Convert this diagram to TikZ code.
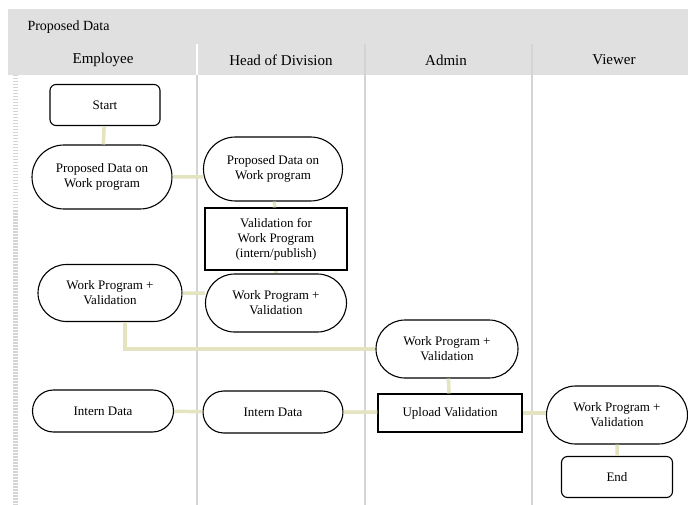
\documentclass[tikz,border=0pt]{standalone}
\usepackage{fontspec}
\setmainfont{Liberation Serif}
\usetikzlibrary{shapes.misc}
\definecolor{lanegray}{RGB}{224,224,224}
\definecolor{linegray}{RGB}{212,212,212}
\definecolor{flowline}{RGB}{228,228,192}
\tikzset{
  pill/.style={rounded rectangle, draw, line width=1.1pt, fill=white, inner sep=0pt, align=center, font=\fontsize{13}{15}\selectfont},
  boxnode/.style={rectangle, draw, line width=1.1pt, fill=white, inner sep=0pt, align=center, font=\fontsize{13}{15}\selectfont},
  termnode/.style={boxnode, rounded corners=6pt},
  flow/.style={draw=flowline, line width=3.5pt},
  lanelabel/.style={font=\fontsize{15}{17}\selectfont}
}
\begin{document}
\begin{tikzpicture}[x=1pt,y=-1pt]
\useasboundingbox (0,0) rectangle (688,505);
%header
\fill[lanegray] (8,9) rectangle (688,75);
\node[anchor=west, font=\fontsize{14}{16}\selectfont] (title) at (24,27) {Proposed Data};
\node[lanelabel] (laneE) at (103,60) {Employee};
\node[lanelabel] (laneH) at (281,60) {Head of Division};
\node[lanelabel] (laneA) at (446,60) {Admin};
\node[lanelabel] (laneV) at (614,60) {Viewer};

%lanes
\draw[white, line width=1.5pt] (197,44) -- (197,75);
\draw[linegray, line width=1.5pt] (365,44) -- (365,75);
\draw[linegray, line width=1.5pt] (532,44) -- (532,75);
\draw[linegray, line width=2.5pt] (197,75) -- (197,505);
\draw[linegray, line width=2.5pt] (365,75) -- (365,505);
\draw[linegray, line width=2.5pt] (532,75) -- (532,505);
\draw[linegray, line width=5pt, dash pattern=on 1.5pt off 1.5pt] (15,75) -- (15,505);

%Employee
\node[termnode, minimum width=110pt, minimum height=41pt] (start) at (105,105) {Start};
\node[pill, minimum width=140pt, minimum height=64pt] (pdE) at (102,177) {Proposed Data on\\Work program};
\node[pill, minimum width=144pt, minimum height=57pt] (wpE) at (110,293) {Work Program +\\Validation};
\node[pill, minimum width=141pt, minimum height=42pt] (intE) at (103,411) {Intern Data};

%Head of Division
\node[pill, minimum width=139pt, minimum height=64pt] (pdH) at (273,169) {Proposed Data on\\Work program};
\node[boxnode, minimum width=142pt, minimum height=62pt] (valH) at (276,239) {Validation for\\Work Program\\(intern/publish)};
\node[pill, minimum width=141pt, minimum height=58pt] (wpH) at (276,303) {Work Program +\\Validation};
\node[pill, minimum width=140pt, minimum height=42pt] (intH) at (273,412) {Intern Data};

%Admin
\node[pill, minimum width=142pt, minimum height=58pt] (wpA) at (447,349) {Work Program +\\Validation};
\node[boxnode, minimum width=144pt, minimum height=38pt] (upA) at (450,413) {Upload Validation};

%Viewer
\node[pill, minimum width=141pt, minimum height=58pt] (wpV) at (617,415) {Work Program +\\Validation};
\node[termnode, minimum width=111pt, minimum height=41pt] (end) at (617,477) {End};

%connectors
\draw[flow] (start) -- (pdE);
\draw[flow] (pdE) -- (pdE -| pdH.west);
\draw[flow] (pdH) -- (valH);
\draw[flow] (valH) -- (wpH);
\draw[flow] (wpE) -- (wpE -| wpH.west);
\draw[flow] ([xshift=15pt]wpE.south) |- (wpA.west);
\draw[flow] (wpA) -- (upA);
\draw[flow] (intE) -- (intH);
\draw[flow] (intH) -- (intH -| upA.west);
\draw[flow] (upA) -- (upA -| wpV.west);
\draw[flow] (wpV) -- (end);
\end{tikzpicture}
\end{document}
